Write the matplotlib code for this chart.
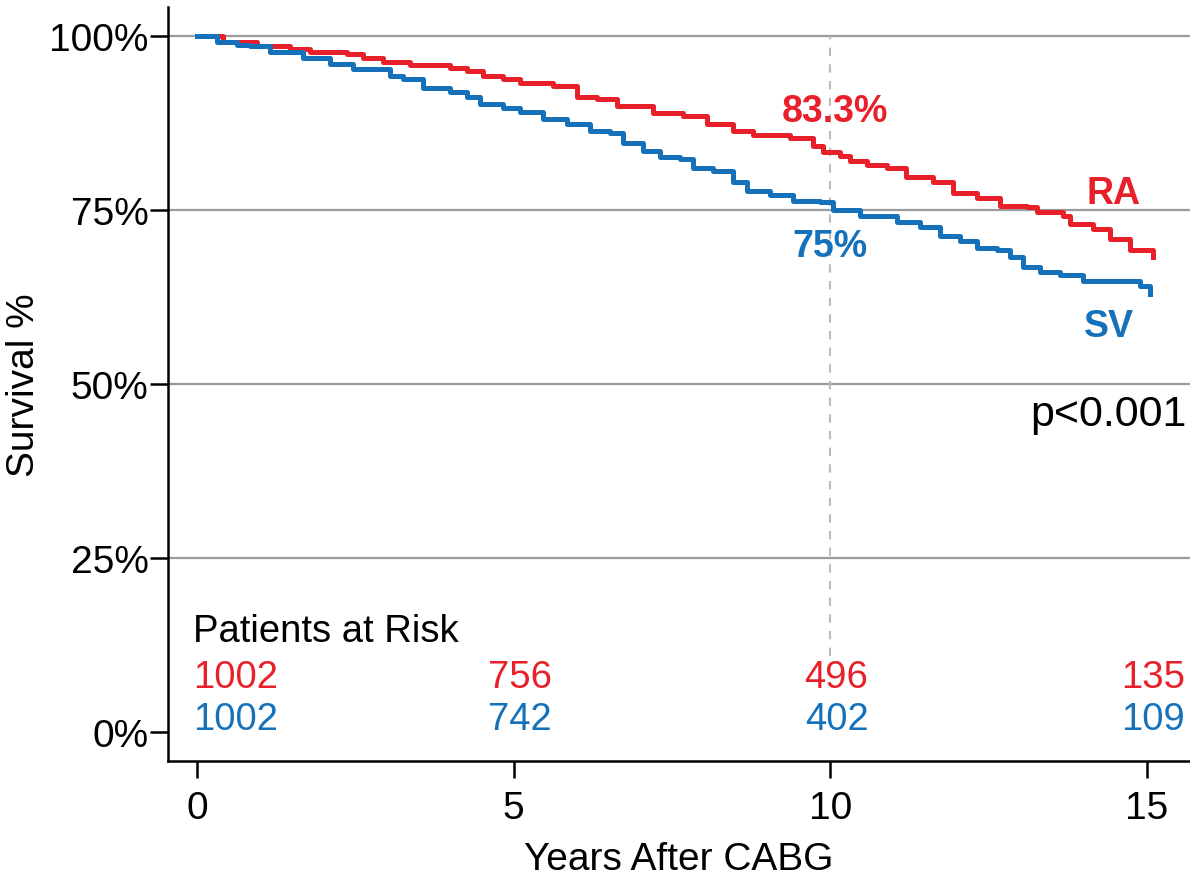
import matplotlib
matplotlib.use("Agg")
import matplotlib.pyplot as plt

# Kaplan-Meier curves (years, survival %)
ra_t = [0, 0.41, 0.95, 1.47, 1.78, 2.37, 2.62, 2.94, 3.16, 3.36, 4.0, 4.26, 4.52, 4.83,
        5.1, 5.62, 6.0, 6.32, 6.63, 7.2, 7.67, 8.05, 8.46, 8.78, 9.36, 9.73, 9.88,
        10.15, 10.31, 10.58, 10.9, 11.2, 11.62, 11.94, 12.32, 12.68, 13.1, 13.26,
        13.67, 13.78, 14.15, 14.42, 14.73, 15.1]
ra_s = [100, 99.1, 98.6, 98.1, 97.7, 97.4, 96.9, 96.3, 96.2, 95.8, 95.4, 95.0, 94.3, 93.8,
        93.3, 92.8, 91.2, 90.9, 90.0, 89.0, 88.5, 87.4, 86.4, 85.8, 85.3, 84.2, 83.3,
        82.8, 82.1, 81.4, 81.0, 79.7, 79.0, 77.4, 76.7, 75.6, 75.4, 74.7,
        74.1, 73.0, 72.3, 70.8, 69.2, 68.2]

sv_t = [0, 0.32, 0.63, 0.84, 1.15, 1.42, 1.67, 1.94, 2.1, 2.46, 2.73, 3.05, 3.25, 3.57,
        4.0, 4.26, 4.47, 4.83, 5.1, 5.46, 5.84, 6.21, 6.52, 6.73, 7.04, 7.31, 7.63,
        7.83, 8.15, 8.46, 8.68, 9.05, 9.41, 9.84, 10.05, 10.47, 11.05, 11.42, 11.73,
        12.05, 12.32, 12.63, 12.84, 13.05, 13.31, 13.63, 13.99, 14.78, 14.89, 15.05]
sv_s = [100, 99.1, 98.7, 98.6, 97.7, 97.7, 96.9, 96.8, 96.0, 95.3, 95.2, 94.3, 93.8, 92.6,
        92.0, 91.2, 90.2, 89.6, 89.1, 88.1, 87.4, 86.4, 86.1, 84.7, 83.5, 82.6, 82.3,
        81.1, 80.6, 79.0, 77.8, 77.1, 76.3, 76.1, 75.0, 74.1, 73.3, 72.5, 71.2,
        70.6, 69.5, 69.3, 68.2, 66.8, 66.1, 65.6, 64.8, 64.8, 64.1, 63.0]

risk_times = [0, 5, 10, 15]
risk_ra = [1002, 756, 496, 135]
risk_sv = [1002, 742, 402, 109]

RED = '#E8202A'
BLUE = '#1572BA'

plt.rcParams['font.family'] = ['Liberation Sans', 'DejaVu Sans']
narrow = ['Liberation Sans Narrow', 'Liberation Sans', 'DejaVu Sans']
FS = 28

fig = plt.figure(figsize=(11.9, 8.79), dpi=100)
ax = fig.add_axes([168 / 1190, 1 - 762 / 879, 1 - 168 / 1190, (762 - 8) / 879])

for y in [25, 50, 75, 100]:
    ax.axhline(y, color='#9a9a9a', lw=1.6, zorder=1)
ax.vlines(10, 10.9, 100, colors='#bbbbbb', lw=1.5, linestyles=(0, (4, 4)), zorder=1)

ax.step(ra_t, ra_s, where='post', color=RED, lw=3.6, zorder=3)
ax.step(sv_t, sv_s, where='post', color=BLUE, lw=3.6, zorder=3)

ax.text(10.07, 89.2, '83.3%', color=RED, fontsize=27, fontweight='bold',
        family=narrow, ha='center', va='center')
ax.text(10.0, 69.8, '75%', color=BLUE, fontsize=27, fontweight='bold',
        family=narrow, ha='center', va='center')
ax.text(14.47, 77.5, 'RA', color=RED, fontsize=27, fontweight='bold',
        family=narrow, ha='center', va='center')
ax.text(14.4, 58.4, 'SV', color=BLUE, fontsize=27, fontweight='bold',
        family=narrow, ha='center', va='center')
ax.text(15.63, 45.7, 'p<0.001', fontsize=31, ha='right', va='center')

ax.text(-0.06, 14.5, 'Patients at Risk', fontsize=27.5, ha='left', va='center')
for t, a, b in zip(risk_times, risk_ra, risk_sv):
    if t == 0:
        x, ha = t - 0.06, 'left'
    else:
        x, ha = t + 0.6, 'right'
    ax.text(x, 7.9, str(a), color=RED, fontsize=27.5, ha=ha, va='center')
    ax.text(x, 1.87, str(b), color=BLUE, fontsize=27.5, ha=ha, va='center')

ax.set_xlim(-0.458, 15.68)
ax.set_ylim(-4.17, 104.17)
ax.set_xticks([0, 5, 10, 15])
ax.set_yticks([0, 25, 50, 75, 100])
ax.set_yticklabels(['0%', '25%', '50%', '75%', '100%'])
ax.tick_params(axis='both', labelsize=FS, width=1.8, direction='out')
ax.tick_params(axis='y', length=13, pad=1)
ax.tick_params(axis='x', length=12, pad=9)

for s in ['top', 'right']:
    ax.spines[s].set_visible(False)
for s in ['left', 'bottom']:
    ax.spines[s].set_linewidth(1.8)

ax.set_xlabel('Years After CABG', fontsize=FS, labelpad=11)
ax.set_ylabel('Survival %', fontsize=FS, labelpad=5)

fig.savefig('out.png', dpi=100)
